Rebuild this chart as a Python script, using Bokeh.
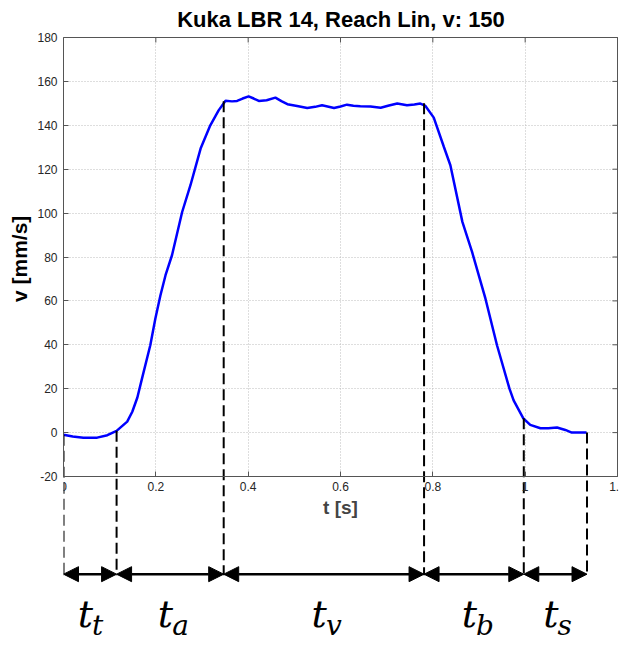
from bokeh.plotting import figure
from bokeh.models import (Range1d, FixedTicker, NumeralTickFormatter, ColumnDataSource,
                          Arrow, NormalHead, Title)
from bokeh.core.properties import value
from bokeh.embed import file_html
from bokeh.resources import INLINE

# ---- data ----
t_s = [0.000, 0.020, 0.043, 0.073, 0.095, 0.115, 0.138, 0.149, 0.160, 0.170,
       0.188, 0.199, 0.210, 0.221, 0.235, 0.257, 0.275, 0.297, 0.318, 0.336,
       0.351, 0.365, 0.376, 0.388, 0.401, 0.412, 0.423, 0.440, 0.459, 0.472,
       0.485, 0.506, 0.528, 0.545, 0.560, 0.572, 0.586, 0.600, 0.614, 0.628,
       0.643, 0.665, 0.687, 0.705, 0.723, 0.744, 0.760, 0.773, 0.784, 0.802,
       0.824, 0.838, 0.864, 0.885, 0.914, 0.939, 0.966, 0.975, 0.996, 1.011,
       1.033, 1.050, 1.069, 1.087, 1.101, 1.133]
v_mm_s = [-1.0, -1.8, -2.3, -2.3, -1.2, 0.8, 5.0, 9.5, 16.0, 24.6,
          39.8, 52.0, 62.6, 71.7, 80.8, 100.5, 112.7, 129.4, 140.0, 146.8,
          151.2, 150.9, 151.1, 152.2, 153.2, 152.2, 151.1, 151.4, 152.6, 151.0,
          149.6, 148.8, 147.9, 148.4, 149.1, 148.6, 147.9, 148.6, 149.4, 148.9,
          148.7, 148.6, 148.0, 149.0, 149.9, 149.1, 149.5, 149.9, 148.8, 143.5,
          130.1, 121.8, 96.0, 82.3, 61.0, 39.8, 20.0, 14.7, 6.5, 3.5,
          2.0, 2.0, 2.3, 1.2, 0.0, 0.0]

x_ticks = [0, 0.2, 0.4, 0.6, 0.8, 1.0, 1.2]
y_ticks = [-20, 0, 20, 40, 60, 80, 100, 120, 140, 160, 180]
x_lim = [0, 1.2]
y_lim = [-20, 180]

phase_t = [0.0, 0.115, 0.347, 0.781, 0.997, 1.134]
phase_v = [-1.0, 0.8, 151.0, 150.0, 6.5, 0.0]
phase_sub = ["t", "a", "v", "b", "s"]

arrow_y = -64.5
dash_bottom = -65.0
label_main_y = -82.5
label_sub_y = -88.0

TITLE = "Kuka LBR 14, Reach Lin, v: 150"
XLABEL = "t [s]"
YLABEL = "v [mm/s]"

# ---- figure ----
W, H = 626, 645
LEFT, RIGHT, TOP = 63, 8, 36
px_per_v = 439.0 / 200.0
px_per_t = 554.0 / 1.2
y_end = 180 + 1.0 / px_per_v
y_start = -20 - (H - 476) / px_per_v
x_end = 1.2 + 1.0 / px_per_t

p = figure(width=W, height=H, output_backend="svg", toolbar_location=None,
           x_range=Range1d(0, x_end), y_range=Range1d(y_start, y_end),
           min_border_left=LEFT, min_border_right=RIGHT, min_border_bottom=0,
           min_border_top=TOP)
p.outline_line_color = None
p.background_fill_color = "white"
p.border_fill_color = "white"

p.title.text = TITLE
p.title.align = "center"
p.title.text_font = "Liberation Sans"
p.title.text_font_size = "22px"
p.title.text_font_style = "bold"
p.title.text_color = "black"
p.title.standoff = 9

AX_COL = "#555555"
TICK_FONT = "Liberation Sans"
# x axis drawn at y = -20
xa = p.xaxis[0]
xa.fixed_location = -20
xa.bounds = (0, 1.2)
xa.ticker = FixedTicker(ticks=x_ticks)
xa.formatter = NumeralTickFormatter(format="0.[0]")
xa.axis_label = XLABEL
xa.axis_label_text_font = "Liberation Sans"
xa.axis_label_text_font_style = "bold"
xa.axis_label_text_font_size = "19px"
xa.axis_label_standoff = 3
xa.major_label_text_font = TICK_FONT
xa.major_label_text_font_size = "12px"
xa.major_label_text_color = "#262626"
xa.major_label_standoff = 5
xa.major_tick_in = 5
xa.major_tick_out = 0
xa.minor_tick_line_color = None
xa.axis_line_color = AX_COL
xa.major_tick_line_color = AX_COL

ya = p.yaxis[0]
ya.bounds = (-20, 180)
ya.ticker = FixedTicker(ticks=y_ticks)
ya.formatter = NumeralTickFormatter(format="0")
ya.major_label_text_font = TICK_FONT
ya.major_label_text_font_size = "12px"
ya.major_label_text_color = "#262626"
ya.major_label_standoff = 6
ya.major_tick_in = 5
ya.major_tick_out = 0
ya.minor_tick_line_color = None
ya.axis_line_color = AX_COL
ya.major_tick_line_color = AX_COL

# y axis title in the left panel, anchored at the frame bottom and shifted up
# so that it is centred on the -20..180 box
ylabel_len_px = 90.0
box_mid_px = (37 + 476) / 2.0
p.add_layout(Title(text=YLABEL, align="left", offset=H - (box_mid_px + ylabel_len_px / 2),
                   text_font="Liberation Sans", text_font_style="bold",
                   text_font_size="21px", text_color="black", standoff=8), "left")

# grids (dotted, only inside the box)
p.xgrid.ticker = FixedTicker(ticks=x_ticks)
p.ygrid.ticker = FixedTicker(ticks=y_ticks)
for g in (p.xgrid, p.ygrid):
    g.grid_line_color = "#bdbdbd"
    g.grid_line_dash = "1 2"
    g.grid_line_width = 1
p.xgrid.cross_bounds = (-20, 180)
p.ygrid.cross_bounds = (0, 1.2)

# top and right box lines
p.line(x=x_lim, y=[y_lim[1], y_lim[1]], line_color=AX_COL, line_width=1)
p.line(x=[x_lim[1], x_lim[1]], y=y_lim, line_color=AX_COL, line_width=1)
# inner ticks on top and right
tick_v = 5.0 / px_per_v
tick_t = 5.0 / px_per_t
p.segment(x0=x_ticks, y0=[y_lim[1]] * len(x_ticks), x1=x_ticks,
          y1=[y_lim[1] - tick_v] * len(x_ticks), line_color=AX_COL, line_width=1)
p.segment(x0=[x_lim[1]] * len(y_ticks), y0=y_ticks, x1=[x_lim[1] - tick_t] * len(y_ticks),
          y1=y_ticks, line_color=AX_COL, line_width=1)

# curve
p.line(x=t_s, y=v_mm_s, line_color="#0000ff", line_width=2.5)

# dashed phase boundaries
p.segment(x0=phase_t, y0=phase_v, x1=phase_t, y1=[dash_bottom] * len(phase_t),
          line_color="black", line_width=2, line_dash="11 5")

# double arrows
arr_src = ColumnDataSource(dict(x0=phase_t[:-1], x1=phase_t[1:],
                                y=[arrow_y] * (len(phase_t) - 1)))
p.add_layout(Arrow(x_start="x0", y_start="y", x_end="x1", y_end="y", source=arr_src,
                   line_color="black", line_width=2.5,
                   start=NormalHead(size=15, fill_color="black", line_color="black", line_width=1),
                   end=NormalHead(size=15, fill_color="black", line_color="black", line_width=1)))

# phase labels t_x
mids = [(a + b) / 2 for a, b in zip(phase_t[:-1], phase_t[1:])]
p.text(x=mids, y=[label_main_y] * len(mids), text=["t"] * len(mids),
       text_font=value("DejaVu Serif"), text_font_style="italic", text_font_size="38px",
       text_align="right", text_baseline="alphabetic", x_offset=3, text_color="black")
p.text(x=mids, y=[label_sub_y] * len(mids), text=phase_sub,
       text_font=value("DejaVu Serif"), text_font_style="italic", text_font_size="28px",
       text_align="left", text_baseline="alphabetic", x_offset=2, text_color="black")

open("out.html", "w").write(file_html(p, INLINE))
